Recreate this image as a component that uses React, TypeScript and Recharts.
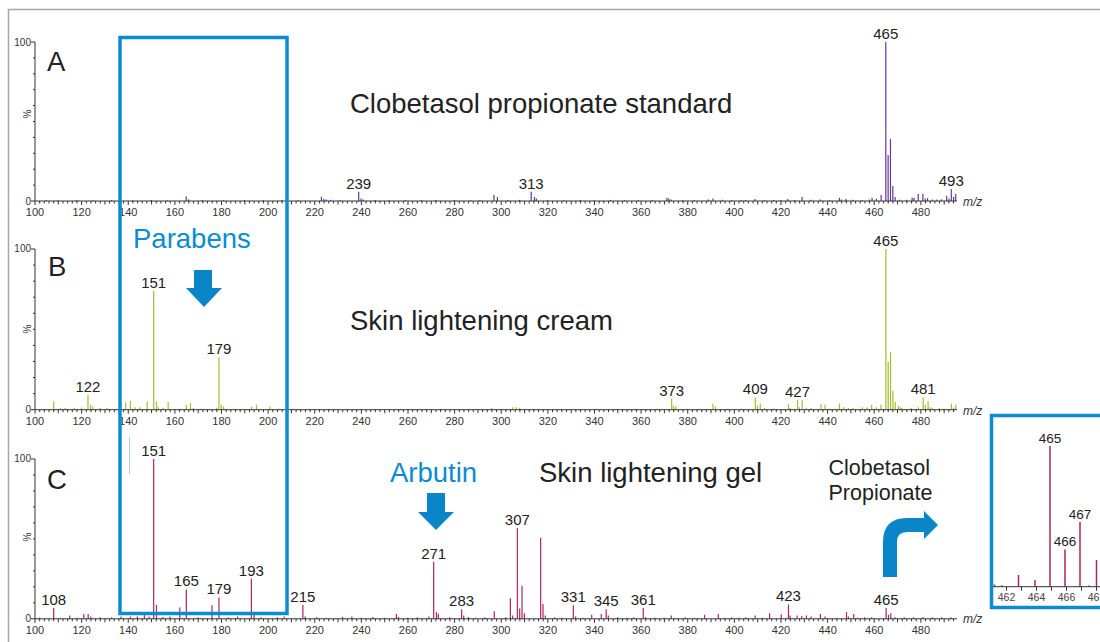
import React from 'react';
import { BarChart, Bar, XAxis, YAxis, LabelList } from 'recharts';

const FONT = '"Liberation Sans", Arial, Helvetica, sans-serif';
const BLUE = '#0a8cd2';
const INK = '#222';

// A: clobetasol propionate standard
const aMz = [105, 110, 118, 125, 133, 142, 150, 157, 165, 166, 172, 181, 190, 198, 206, 213, 223, 224, 225, 227, 231, 239, 240, 241, 246, 252, 259, 266, 272, 280, 287, 291, 297, 298.5, 303, 308, 313, 314.4, 315.2, 320, 327, 334, 340, 347, 353, 359, 365, 371.2, 372, 373, 378, 383, 389, 391, 395, 399, 403, 405, 409, 413, 417, 420, 423, 426, 429.2, 433, 437, 441, 445.2, 446, 448, 451, 455, 458, 459.2, 461.1, 463.1, 465.1, 466.1, 467.1, 468.1, 469.1, 471, 474, 476.4, 477.2, 479, 481, 482, 483, 485, 487, 489, 491.2, 492.2, 493.2, 494.2, 495.1];
const aPct = [0.6, 0.5, 0.7, 0.5, 0.6, 0.5, 0.7, 0.5, 3, 1, 0.6, 0.5, 0.6, 0.5, 0.6, 0.7, 2.7, 1.3, 1, 0.8, 0.6, 5.8, 1.6, 1, 0.6, 0.5, 0.6, 0.5, 0.7, 0.6, 0.5, 0.6, 3.8, 2.5, 0.6, 0.7, 5.8, 2.5, 1.5, 0.6, 0.5, 0.6, 0.5, 0.7, 0.6, 0.5, 0.6, 2, 1.5, 1, 0.7, 0.6, 1, 1.5, 0.8, 0.6, 0.7, 0.6, 1.3, 0.6, 0.7, 0.6, 1.2, 0.7, 2.5, 0.8, 1, 0.7, 2, 1, 1.2, 0.8, 0.7, 1, 2, 1.5, 3.8, 100, 29, 39, 9.4, 2.5, 0.8, 0.8, 2, 2, 4.4, 4.6, 1.5, 1.8, 1, 1, 1, 3.3, 1.5, 7.5, 2.5, 4.4];
const aLabelMz = [239, 313, 465.1, 493.2];
const aLabelText = ['239', '313', '465', '493'];

// B: skin lightening cream
const bMz = [104, 108.1, 111, 113, 117, 120, 122.8, 123.9, 124.8, 128, 131, 135, 139, 141, 143, 145, 148.2, 151, 152.2, 153, 155, 157.2, 160, 165, 166.8, 168, 171, 178, 179, 180, 181, 186, 193, 195.1, 200.8, 205, 211, 219, 226, 233, 240, 248, 257, 265, 274, 282, 289, 296, 300, 305, 306.5, 308, 314, 320, 326, 333, 341, 348, 355, 361, 367, 373.2, 374, 375, 380, 385, 390.9, 392, 397, 403, 409.1, 410, 411.2, 413, 417, 423.3, 424, 427.2, 428, 429.2, 431, 433, 437.3, 439, 441, 445.2, 447, 449, 451, 455, 457, 459, 461, 463, 465.1, 466.1, 467.1, 468.1, 469.1, 470.5, 471.2, 472, 476, 479, 481.1, 482, 483.2, 484, 485, 488, 490, 493.2, 494.2, 495.1];
const bPct = [0.6, 5.2, 1, 1, 1, 1.3, 9.3, 3, 2, 1, 1, 0.6, 4.5, 5.6, 1.5, 1.5, 5.1, 74, 5, 1.5, 1.2, 4.8, 0.6, 3, 4.1, 1, 0.6, 1.2, 32.7, 3, 2, 0.6, 1.8, 3, 2, 0.6, 0.6, 0.5, 0.6, 0.5, 0.6, 0.5, 0.6, 0.5, 0.6, 0.5, 0.6, 1, 0.6, 1.5, 1.5, 1.2, 0.6, 0.5, 0.6, 0.5, 0.6, 0.5, 0.6, 0.5, 0.6, 6.8, 2.5, 2, 0.6, 0.6, 3.7, 2, 0.6, 0.7, 7.6, 2.5, 3.8, 1, 0.7, 3.5, 1.2, 6.2, 1.5, 5.8, 1.2, 1, 3.5, 3, 0.7, 3.8, 1.5, 1, 1, 1.5, 1.5, 3, 1.5, 3, 100, 29.6, 36, 11.8, 4.8, 2.5, 1.5, 1, 1.2, 1.5, 7.6, 3, 5.2, 1.5, 1.2, 1, 0.8, 3.7, 1.3, 3];
const bLabelMz = [122.8, 151, 179, 373.2, 409.1, 427.2, 465.1, 481.1];
const bLabelText = ['122', '151', '179', '373', '409', '427', '465', '481'];

// C: skin lightening gel
const cMz = [102, 108.1, 111, 115, 118, 121, 122.9, 124, 128, 133, 137, 141, 144, 147, 149, 151, 152.2, 155, 158, 162.2, 165, 170, 176, 179, 183, 187, 192.9, 194.1, 197, 204, 207, 215, 216, 221, 225, 232, 236, 240, 245, 250, 255.1, 256, 260, 264, 269, 271.1, 272.3, 273.1, 278, 283.1, 284, 286, 289, 293, 297.1, 302, 304, 305, 307, 308, 309, 310, 317, 318, 319, 323, 326, 331, 332, 335, 338.9, 343, 345.1, 346, 350, 354, 357, 361, 362, 366, 370, 373, 379, 383, 387.3, 393.2, 396, 399, 402, 405, 409, 412, 415.2, 420.2, 423.3, 424, 427, 429, 431, 433, 437, 439, 444, 448.2, 449, 451.3, 453, 456, 459, 465.2, 466.2, 467.2, 469, 473, 477, 481, 485, 489, 493];
const cPct = [0.6, 6.7, 0.6, 2, 0.6, 3, 3, 1.5, 1, 1, 1.5, 1.5, 1.5, 2.5, 1.5, 100, 8.6, 1.2, 1.5, 7.1, 18.4, 1, 8.4, 13.4, 1, 1.5, 25, 3, 1, 1, 1.5, 8.6, 1.5, 1, 0.6, 1.2, 1.5, 0.6, 1.2, 0.6, 3, 1.2, 0.6, 1, 1.5, 35.5, 4.2, 3, 1, 5.9, 2, 1.2, 0.6, 1, 4.8, 1, 12.8, 2, 56.8, 6.5, 20.7, 3.5, 50.7, 9.2, 2, 1, 0.6, 8.4, 1.5, 0.6, 2.5, 3, 5.9, 2, 1, 0.6, 1, 6.7, 1, 0.6, 0.6, 2, 1, 0.6, 2.5, 3, 0.6, 1, 0.6, 1, 2, 0.6, 3.4, 2.9, 9, 2, 2, 1.8, 2, 1.5, 3, 1.5, 0.6, 4.2, 1.5, 3, 0.6, 1, 1, 6.7, 2.5, 3.5, 1, 1, 1, 1.2, 1, 1, 1];
const cLabelMz = [108.1, 151, 165, 179, 192.9, 215, 271.1, 283.1, 307, 331, 345.1, 361, 423.3, 465.2];
const cLabelText = ['108', '151', '165', '179', '193', '215', '271', '283', '307', '331', '345', '361', '423', '465'];

// inset: gel, zoom on the clobetasol cluster
const insetMz = [461.2, 461.7, 462.8, 463.9, 464.9, 465.9, 466.9, 467.5, 468.0];
const insetPct = [1.5, 1, 8.3, 4.8, 100, 26.5, 46, 0.8, 19];
const insetLabelMz = [464.9, 465.9, 466.9];
const insetLabelText = ['465', '466', '467'];

const mzTicks = Array.from({ length: 198 }, (_, i) => 100 + 2 * i);
const pctTicks = [0, 10, 20, 30, 40, 50, 60, 70, 80, 90, 100];
const insetTicks = [461, 462, 463, 464, 465, 466, 467, 468];

function rows(mz: number[], pct: number[], labelMz: number[], labelText: string[]) {
  return mz.map((m, i) => {
    const k = labelMz.indexOf(m);
    return { mz: m, pct: pct[i], label: k >= 0 ? labelText[k] : undefined };
  });
}

function MzTick(props: any) {
  const { x, y, payload } = props;
  const v = payload.value;
  const major = v % 20 === 0;
  const len = major ? 4 : v % 10 === 0 ? 3.5 : 2.5;
  return (
    <g>
      <line x1={x} x2={x} y1={y} y2={y + len} stroke="#333" strokeWidth={1} />
      {major && (
        <text x={x} y={y + 15} textAnchor="middle" fontSize={11} fill="#333" fontFamily={FONT}>
          {v}
        </text>
      )}
    </g>
  );
}

function PctTick(props: any) {
  const { x, y, payload } = props;
  const v = payload.value;
  const edge = v === 0 || v === 100;
  return (
    <g>
      <line x1={x - (edge ? 4 : 2)} x2={x} y1={y} y2={y} stroke="#333" strokeWidth={1} />
      {edge && (
        <text x={x - 4} y={y + 3.5} textAnchor="end" fontSize={10} fill="#333" fontFamily={FONT}>
          {v}
        </text>
      )}
    </g>
  );
}

function InsetTick(props: any) {
  const { x, y, payload } = props;
  const v = payload.value;
  return (
    <g>
      <line x1={x} x2={x} y1={y} y2={y + 4} stroke="#333" strokeWidth={1} />
      {v % 2 === 0 && (
        <text x={x} y={y + 14} textAnchor="middle" fontSize={10.5} fill="#444" fontFamily={FONT}>
          {v}
        </text>
      )}
    </g>
  );
}

function Spectrum({ data, color, top, zero }: { data: any[]; color: string; top: number; zero: number }) {
  const head = 32;
  const h = head + (zero - top) + 24;
  return (
    <div style={{ position: 'absolute', left: 0, top: top - head }}>
      <BarChart width={1002} height={h} data={data} margin={{ top: head, right: 45, bottom: 2, left: 8 }}>
        <XAxis
          type="number"
          dataKey="mz"
          domain={[100, 495.5]}
          allowDataOverflow
          ticks={mzTicks}
          interval={0}
          tickLine={false}
          tickSize={0}
          tickMargin={0}
          tick={(p: any) => <MzTick {...p} />}
          axisLine={{ stroke: '#333' }}
          height={22}
        />
        <YAxis
          type="number"
          domain={[0, 100]}
          ticks={pctTicks}
          interval={0}
          width={27}
          tickLine={false}
          tickSize={0}
          tickMargin={0}
          tick={(p: any) => <PctTick {...p} />}
          axisLine={{ stroke: '#333' }}
        />
        <Bar dataKey="pct" fill={color} barSize={1.2} isAnimationActive={false}>
          <LabelList dataKey="label" position="top" offset={3} fill={INK} fontSize={15} fontFamily={FONT} />
        </Bar>
      </BarChart>
    </div>
  );
}

function Inset() {
  const head = 25;
  const top = 446;
  const zero = 586.7;
  return (
    <div style={{ position: 'absolute', left: 993, top: top - head }}>
      <BarChart
        width={120}
        height={head + (zero - top) + 20}
        data={rows(insetMz, insetPct, insetLabelMz, insetLabelText)}
        margin={{ top: head, right: 0, bottom: 0, left: 0 }}
      >
        <XAxis
          type="number"
          dataKey="mz"
          domain={[461.1, 469.1]}
          allowDataOverflow
          ticks={insetTicks}
          interval={0}
          tickLine={false}
          tickSize={0}
          tickMargin={0}
          tick={(p: any) => <InsetTick {...p} />}
          axisLine={{ stroke: '#333' }}
          height={20}
        />
        <YAxis hide domain={[0, 100]} />
        <Bar dataKey="pct" fill="#b0245f" barSize={1.5} isAnimationActive={false}>
          <LabelList dataKey="label" position="top" offset={3} fill={INK} fontSize={13.5} fontFamily={FONT} />
        </Bar>
      </BarChart>
    </div>
  );
}

const big = { fontFamily: FONT, fontSize: 27.5 };

export default function App() {
  return (
    <div style={{ position: 'fixed', left: 0, top: 0, width: 1100, height: 642, overflow: 'hidden', background: '#fff' }}>
      <Spectrum data={rows(aMz, aPct, aLabelMz, aLabelText)} color="#67379b" top={42} zero={201} />
      <Spectrum data={rows(bMz, bPct, bLabelMz, bLabelText)} color="#a6bd2c" top={249.3} zero={410} />
      <Spectrum data={rows(cMz, cPct, cLabelMz, cLabelText)} color="#b0245f" top={459} zero={618.8} />
      <Inset />

      <svg width={1100} height={642} style={{ position: 'absolute', left: 0, top: 0, pointerEvents: 'none' }}>
        <rect x={8.5} y={9.5} width={1200} height={700} fill="none" stroke="#a8a8a8" strokeWidth={1.5} />

        {/* y-axis titles and m/z */}
        {[114, 329, 537].map((cy) => (
          <text key={cy} x={31} y={cy} transform={`rotate(-90 31 ${cy})`} textAnchor="middle" fontSize={10} fill="#333" fontFamily={FONT}>
            %
          </text>
        ))}
        {[205.5, 414.5, 623].map((by) => (
          <text key={by} x={963} y={by} fontSize={12} fontStyle="italic" fill="#333" fontFamily={FONT}>
            m/z
          </text>
        ))}

        {/* panel letters and titles */}
        <text x={47} y={71} {...big} fill={INK}>A</text>
        <text x={48} y={276} {...big} fill={INK}>B</text>
        <text x={47} y={489} {...big} fill={INK}>C</text>
        <text x={350} y={113} {...big} fill={INK}>Clobetasol propionate standard</text>
        <text x={350} y={330} {...big} fill={INK}>Skin lightening cream</text>
        <text x={539} y={481.5} {...big} fill={INK}>Skin lightening gel</text>
        <text x={133} y={247.5} {...big} fill={BLUE}>Parabens</text>
        <text x={390} y={481.5} {...big} fill={BLUE}>Arbutin</text>
        <text x={828.5} y={474.5} fontFamily={FONT} fontSize={21.5} fill={INK}>Clobetasol</text>
        <text x={828.5} y={499.5} fontFamily={FONT} fontSize={21.5} fill={INK}>Propionate</text>

        {/* parabens window */}
        <rect x={120} y={37.5} width={167} height={576} fill="none" stroke={BLUE} strokeWidth={3.5} />
        <line x1={129.5} x2={129.5} y1={437} y2={474} stroke="#a9cde6" strokeWidth={1} />

        {/* arrows */}
        <polygon points="194,270 212,270 212,288 222,288 204,307 186,288 194,288" fill="#0a86c8" />
        <polygon points="427,493 445,493 445,512 454,512 436,530 418,512 427,512" fill="#0a86c8" />
        <path d="M 883 577 L 883 542 Q 883 518 907 518 L 924 518 L 924 511 L 938 525 L 924 539 L 924 532 L 907 532 Q 897 532 897 542 L 897 577 Z" fill="#0a86c8" />

        {/* inset frame */}
        <rect x={991.5} y={415.5} width={200} height={192} fill="none" stroke={BLUE} strokeWidth={3.5} />
      </svg>
    </div>
  );
}
